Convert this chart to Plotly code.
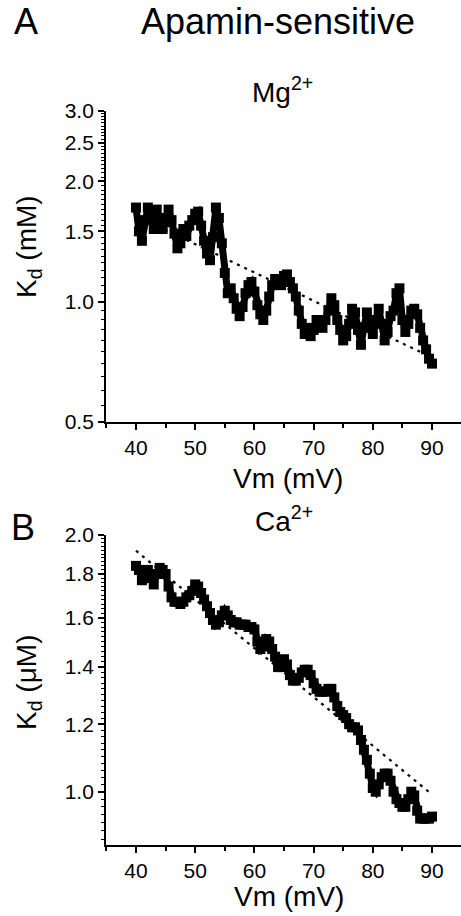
import plotly.graph_objects as go

# ---------------- data ----------------
vm_mV = [40.0, 40.5, 41.0, 41.5, 42.0, 42.5, 43.0, 43.5, 44.0, 44.5,
         45.0, 45.5, 46.0, 46.5, 47.0, 47.5, 48.0, 48.5, 49.0, 49.5,
         50.0, 50.5, 51.0, 51.5, 52.0, 52.5, 53.0, 53.5, 54.0, 54.5,
         55.0, 55.5, 56.0, 56.5, 57.0, 57.5, 58.0, 58.5, 59.0, 59.5,
         60.0, 60.5, 61.0, 61.5, 62.0, 62.5, 63.0, 63.5, 64.0, 64.5,
         65.0, 65.5, 66.0, 66.5, 67.0, 67.5, 68.0, 68.5, 69.0, 69.5,
         70.0, 70.5, 71.0, 71.5, 72.0, 72.5, 73.0, 73.5, 74.0, 74.5,
         75.0, 75.5, 76.0, 76.5, 77.0, 77.5, 78.0, 78.5, 79.0, 79.5,
         80.0, 80.5, 81.0, 81.5, 82.0, 82.5, 83.0, 83.5, 84.0, 84.5,
         85.0, 85.5, 86.0, 86.5, 87.0, 87.5, 88.0, 88.5, 89.0, 89.5,
         90.0]

kd_mg_mM = [1.72, 1.50, 1.42, 1.60, 1.72, 1.66, 1.52, 1.70, 1.62, 1.52,
            1.58, 1.70, 1.60, 1.48, 1.36, 1.40, 1.52, 1.46, 1.55, 1.60,
            1.66, 1.68, 1.55, 1.42, 1.32, 1.27, 1.45, 1.72, 1.62, 1.40,
            1.18, 1.05, 1.08, 1.02, 0.96, 0.92, 0.97, 1.05, 1.10, 1.12,
            1.06, 0.98, 0.93, 0.90, 0.95, 1.03, 1.10, 1.14, 1.13, 1.10,
            1.16, 1.17, 1.12, 1.08, 1.03, 0.95, 0.88, 0.83, 0.86, 0.82,
            0.85, 0.90, 0.88, 0.86, 0.90, 0.95, 1.02, 0.98, 0.90, 0.85,
            0.80, 0.82, 0.88, 0.96, 0.94, 0.85, 0.78, 0.86, 0.94, 0.90,
            0.83, 0.90, 0.96, 0.88, 0.80, 0.84, 0.92, 0.95, 1.05, 1.08,
            0.90, 0.84, 0.88, 0.95, 0.96, 0.93, 0.86, 0.80, 0.76, 0.72,
            0.70]

kd_ca_uM = [1.84, 1.82, 1.77, 1.79, 1.82, 1.78, 1.75, 1.80, 1.83, 1.82,
            1.80, 1.74, 1.69, 1.67, 1.67, 1.66, 1.67, 1.69, 1.70, 1.72,
            1.75, 1.74, 1.71, 1.68, 1.65, 1.62, 1.59, 1.57, 1.58, 1.61,
            1.63, 1.61, 1.59, 1.58, 1.58, 1.57, 1.57, 1.57, 1.56, 1.56,
            1.55, 1.50, 1.47, 1.48, 1.51, 1.50, 1.47, 1.44, 1.40, 1.40,
            1.43, 1.41, 1.37, 1.35, 1.35, 1.36, 1.38, 1.39, 1.39, 1.37,
            1.34, 1.32, 1.31, 1.31, 1.31, 1.32, 1.32, 1.29, 1.26, 1.24,
            1.23, 1.22, 1.20, 1.19, 1.19, 1.18, 1.15, 1.12, 1.09, 1.05,
            1.01, 1.00, 1.02, 1.04, 1.05, 1.05, 1.03, 1.00, 0.98, 0.97,
            0.96, 0.96, 0.98, 1.00, 0.99, 0.95, 0.93, 0.93, 0.93, 0.93,
            0.935]

fit_mg_x = [40.0, 90.0]
fit_mg_y = [1.64, 0.725]
fit_ca_x = [40.0, 89.5]
fit_ca_y = [1.917, 0.999]

x_ticks = [40, 50, 60, 70, 80, 90]
mg_ticks = [0.5, 1.0, 1.5, 2.0, 2.5, 3.0]
mg_tick_text = ["0.5", "1.0", "1.5", "2.0", "2.5", "3.0"]
ca_ticks = [1.0, 1.2, 1.4, 1.6, 1.8, 2.0]
ca_tick_text = ["1.0", "1.2", "1.4", "1.6", "1.8", "2.0"]

# ---------------- figure ----------------
FONT = "Arial, Liberation Sans, sans-serif"
W, H = 461, 916

def fx(p):
    return p / W

def fy(p):
    return 1 - p / H

mg_minor = [round(0.5 + 0.05 * i, 3) for i in range(51)]
mg_minor = [v for v in mg_minor if all(abs(v - t) > 1e-6 for t in mg_ticks)]
ca_minor = [round(0.88 + 0.02 * i, 3) for i in range(57)]
ca_minor = [v for v in ca_minor if all(abs(v - t) > 1e-6 for t in ca_ticks)]

fig = go.Figure()

marker = dict(symbol="square", size=10, color="black", line=dict(width=0))
band = dict(color="black", width=7)
fitline = dict(color="black", width=2.2, dash="3px,5px")

fig.add_trace(go.Scatter(x=vm_mV, y=kd_mg_mM, mode="lines+markers", marker=marker,
                         line=band, xaxis="x", yaxis="y", showlegend=False))
fig.add_trace(go.Scatter(x=fit_mg_x, y=fit_mg_y, mode="lines", line=fitline,
                         xaxis="x", yaxis="y", showlegend=False))
fig.add_trace(go.Scatter(x=vm_mV, y=kd_ca_uM, mode="lines+markers", marker=marker,
                         line=band, xaxis="x2", yaxis="y2", showlegend=False))
fig.add_trace(go.Scatter(x=fit_ca_x, y=fit_ca_y, mode="lines", line=fitline,
                         xaxis="x2", yaxis="y2", showlegend=False))

px_per_mV = (432 - 136) / 50.0
x_lo = 40 - (136 - 106) / px_per_mV
x_hi = 40 + (W - 136) / px_per_mV
xdom = [fx(106), 1.0]

common_x = dict(range=[x_lo, x_hi], tickvals=x_ticks, ticks="outside", ticklen=6,
                tickwidth=1.5, tickcolor="black", showline=True, linecolor="black",
                linewidth=1.8, showgrid=False, zeroline=False,
                tickfont=dict(family=FONT, size=21, color="black"),
                minor=dict(dtick=5, tick0=35, ticks="outside", ticklen=4,
                           tickwidth=1.5, tickcolor="black"))
common_y = dict(type="log", ticks="outside", ticklen=6, tickwidth=1.5,
                tickcolor="black", showline=True, linecolor="black", linewidth=1.8,
                showgrid=False, zeroline=False,
                tickfont=dict(family=FONT, size=21, color="black"))

fig.update_layout(
    width=W, height=H,
    margin=dict(l=0, r=0, t=0, b=0, autoexpand=False),
    paper_bgcolor="white", plot_bgcolor="white",
    xaxis=dict(domain=xdom, anchor="y", **common_x),
    yaxis=dict(domain=[fy(422), fy(111)], anchor="x",
               range=[-0.30103, 0.47712], tickmode="array", tickvals=mg_ticks,
               ticktext=mg_tick_text,
               minor=dict(tickmode="array", tickvals=mg_minor, ticks="outside",
                          ticklen=3, tickwidth=1.2, tickcolor="black"),
               **common_y),
    xaxis2=dict(domain=xdom, anchor="y2", **common_x),
    yaxis2=dict(domain=[fy(845), fy(535)], anchor="x2",
                range=[-0.0625, 0.30103], tickmode="array", tickvals=ca_ticks,
                ticktext=ca_tick_text,
                minor=dict(tickmode="array", tickvals=ca_minor, ticks="outside",
                           ticklen=3, tickwidth=1.2, tickcolor="black"),
                **common_y),
)

def note(text, xp, yp, size, angle=0):
    fig.add_annotation(text=text, x=fx(xp), y=fy(yp), xref="paper", yref="paper",
                       xanchor="center", yanchor="middle", showarrow=False,
                       textangle=angle,
                       font=dict(family=FONT, size=size, color="black"))

note("A", 26, 21, 36)
note("Apamin-sensitive", 278, 21, 36)
note("Mg<sup>2+</sup>", 282, 90, 28)
note("B", 23, 527, 36)
note("Ca<sup>2+</sup>", 284, 519, 28)
note("Vm (mV)", 288, 478, 28)
note("Vm (mV)", 289, 896, 28)
note("K<sub>d</sub> (mM)", 28, 247, 28, angle=-90)
note("K<sub>d</sub> (\u03bcM)", 28, 683, 28, angle=-90)

fig.write_html(
    "out.html",
    config={"displayModeBar": False},
    post_script="document.documentElement.style.margin='0';"
                "document.body.style.margin='0';"
                "document.documentElement.style.overflow='hidden';",
)
